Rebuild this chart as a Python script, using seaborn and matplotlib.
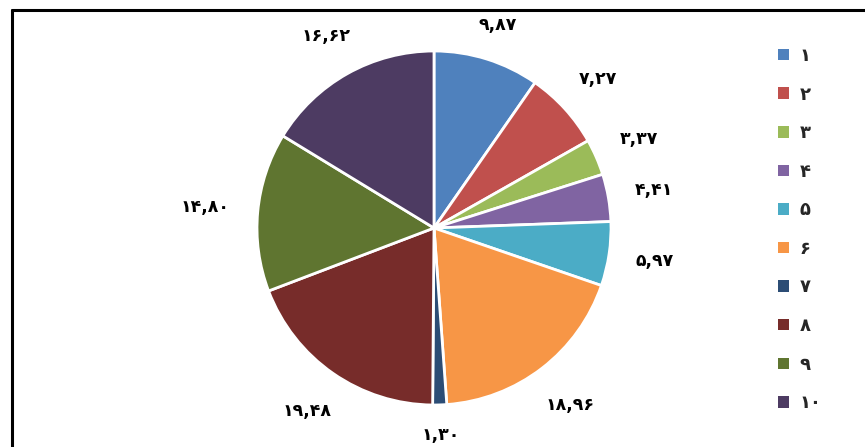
import matplotlib
matplotlib.use("Agg")
import numpy as np
import matplotlib.pyplot as plt
from matplotlib.lines import Line2D
from matplotlib.patches import Patch
import seaborn as sns

categories = ["۱", "۲", "۳", "۴", "۵", "۶", "۷", "۸", "۹", "۱۰"]
values = [9.87, 7.27, 3.37, 4.41, 5.97, 18.96, 1.30, 19.48, 14.80, 16.62]
colors = ["#4F81BD", "#C0504D", "#9BBB59", "#8064A2", "#4BACC6",
          "#F79646", "#2C4D75", "#772C2A", "#5F7530", "#4D3B62"]

sns.set_theme(style="white")
plt.rcParams["font.family"] = ["DejaVu Sans"]

FA = str.maketrans("0123456789", "۰۱۲۳۴۵۶۷۸۹")


def to_fa(v):
    return f"{v:.2f}".replace(".", ",").translate(FA)


W, H = 865, 447
fig = plt.figure(figsize=(W / 100, H / 100), dpi=100)
ax = fig.add_axes([0, 0, 1, 1])

palette = sns.color_palette(colors)
wedges, texts = ax.pie(
    values,
    labels=[to_fa(v) for v in values],
    colors=palette,
    startangle=90,
    counterclock=False,
    labeldistance=1.25,
    wedgeprops=dict(edgecolor="white", linewidth=2.0),
    textprops=dict(fontsize=12.5, fontweight="bold", color="black"),
)
for t in texts:
    t.set_ha("center")
    t.set_va("center")

# geometry: center (434, 228) px from top-left, radius 177 px
cx, cy, r = 434, 228, 177
ax.set_xlim(-cx / r, (W - cx) / r)
ax.set_ylim(-(H - cy) / r, cy / r)
ax.set_aspect("auto")
ax.axis("off")

# place each label just outside its wedge, with a gap from the rim
fig.canvas.draw()
renderer = fig.canvas.get_renderer()
gap = 20
for w, t in zip(wedges, texts):
    bb = t.get_window_extent(renderer)
    hw, hh = 1.3 * bb.width / 2, bb.height / 2
    a = np.deg2rad((w.theta1 + w.theta2) / 2)
    ext = hw * abs(np.cos(a)) + hh * abs(np.sin(a))
    d = (r + gap + ext) / r
    t.set_position((d * np.cos(a), d * np.sin(a)))

handles = [Patch(facecolor=c, edgecolor="none") for c in palette]
leg = fig.legend(
    handles, categories,
    loc="upper left",
    bbox_to_anchor=(778 / W, 1 - 47 / H),
    frameon=False,
    handlelength=0.6,
    handleheight=0.6,
    handletextpad=0.6,
    labelspacing=1.14,
    borderpad=0,
    borderaxespad=0,
    prop=dict(size=13, weight="bold"),
)

# partial outer frame (top and left edges)
fig.add_artist(Line2D([12 / W, 1], [1 - 10 / H, 1 - 10 / H], color="black", linewidth=2.2))
fig.add_artist(Line2D([12 / W, 12 / W], [1 - 10 / H, 0], color="black", linewidth=2.2))

fig.savefig("out.png", dpi=100)
